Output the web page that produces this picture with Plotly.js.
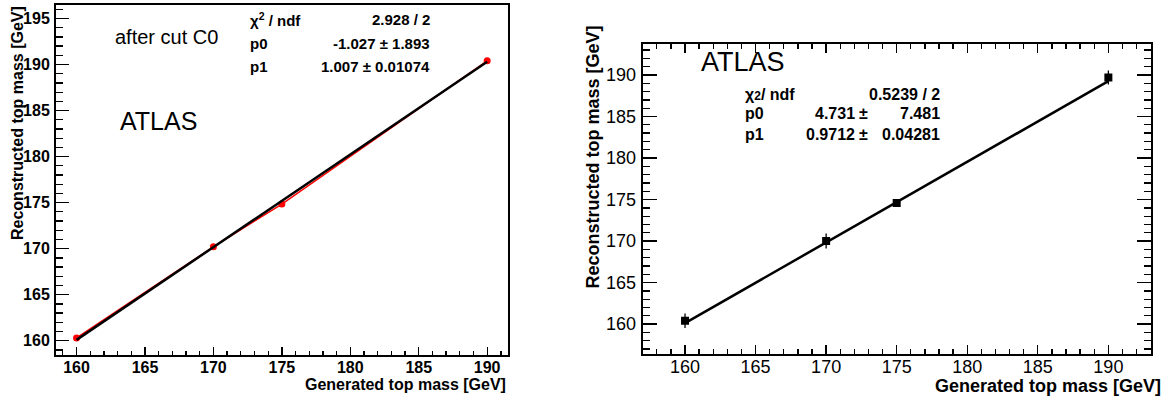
<!DOCTYPE html>
<html>
<head>
<meta charset="utf-8">
<script src="https://cdn.plot.ly/plotly-3.0.1.min.js"></script>
<style>html,body{margin:0;padding:0;background:#fff;}#chart{width:1170px;height:396px;}</style>
</head>
<body>
<div id="chart"></div>
<script>
// ---- Data ----
// Left panel: after cut C0
const genMassLeft = [160, 170, 175, 190];
const recoMassLeft = [160.3, 170.2, 174.85, 190.4];
const fitLeftP0 = -1.027;
const fitLeftP1 = 1.007;
const fitRange = [160, 190];
const statLabelsLeft = ['χ<sup>2</sup> / ndf', 'p0', 'p1'];
const statValuesLeft = ['2.928 / 2', '-1.027 ± 1.893', '1.007 ± 0.01074'];

// Right panel
const genMassRight = [160, 170, 175, 190];
const recoMassRight = [160.4, 170.0, 174.6, 189.7];
const recoErrRight = [0.87, 0.9, 0.3, 0.85];
const fitRightP0 = 4.731;
const fitRightP1 = 0.9712;
const statLabelsRight = ['χ<span style="font-size:12px">2</span>/ ndf', 'p0', 'p1'];
const statValA_Right = ['', '4.731', '0.9712'];
const statValB_Right = ['0.5239 / 2', '7.481', '0.04281'];

const xTitle = 'Generated top mass [GeV]';
const yTitle = 'Reconstructed top mass [GeV]';

// ---- helpers ----
const W = 1170, H = 396;
const px = x => x / W;
const py = y => 1 - y / H;
const FONT = 'Liberation Sans, Arial, Helvetica, sans-serif';

const fitLeftY = fitRange.map(x => fitLeftP0 + fitLeftP1 * x);
const fitRightY = fitRange.map(x => fitRightP0 + fitRightP1 * x);

const traces = [
  {x: genMassLeft, y: recoMassLeft, xaxis: 'x', yaxis: 'y', mode: 'lines+markers',
   line: {color: '#ff0000', width: 1.5}, marker: {color: '#ff0000', size: 7, symbol: 'circle'},
   hoverinfo: 'skip', showlegend: false},
  {x: fitRange, y: fitLeftY, xaxis: 'x', yaxis: 'y', mode: 'lines',
   line: {color: '#000', width: 2.5}, hoverinfo: 'skip', showlegend: false},
  {x: fitRange, y: fitRightY, xaxis: 'x2', yaxis: 'y2', mode: 'lines',
   line: {color: '#000', width: 2.5}, hoverinfo: 'skip', showlegend: false},
  {x: genMassRight, y: recoMassRight, xaxis: 'x2', yaxis: 'y2', mode: 'markers',
   marker: {color: '#000', size: 8, symbol: 'square'},
   error_y: {type: 'data', array: recoErrRight, visible: true, color: '#000', thickness: 1.3, width: 0},
   hoverinfo: 'skip', showlegend: false}
];

function axis(opts) {
  return Object.assign({
    showgrid: false, zeroline: false, showline: true, linecolor: '#000', linewidth: 2,
    ticks: 'inside', tickcolor: '#000', tickwidth: 1.3, dtick: 5,
    fixedrange: true
  }, opts);
}
function minor(len) {
  return {dtick: 1, ticks: 'inside', ticklen: len, tickcolor: '#000', tickwidth: 1.3, showgrid: false};
}

const annotations = [];
function ann(text, x, y, xanchor, size, bold, extra) {
  annotations.push(Object.assign({
    text: text, x: px(x), y: py(y), xref: 'paper', yref: 'paper',
    xanchor: xanchor, yanchor: 'middle', showarrow: false,
    font: {family: FONT, size: size, color: '#000', weight: bold ? 'bold' : 'normal'}
  }, extra || {}));
}

// Left panel texts
ann('after cut C0', 113, 37, 'left', 20, false);
ann('ATLAS', 118, 121, 'left', 25, false);
const leftRows = [20, 43.5, 66.5];
statLabelsLeft.forEach((t, i) => ann(t, 248, leftRows[i], 'left', 15, true));
statValuesLeft.forEach((t, i) => ann(t, 432, leftRows[i], 'right', 15, true));
ann(xTitle, 508, 384, 'right', 16, true);
ann(yTitle, 18, 4, 'center', 16, true, {textangle: -90, yanchor: 'top'});

// Right panel texts
ann('ATLAS', 699, 62, 'left', 27, false);
const rightRows = [94.5, 114, 134.5];
statLabelsRight.forEach((t, i) => ann(t, 743, rightRows[i], 'left', 16, true));
statValA_Right.forEach((t, i) => { if (t) ann(t, 857, rightRows[i], 'right', 16, true); });
statValA_Right.forEach((t, i) => { if (t) ann('±', 863, rightRows[i], 'center', 16, true); });
statValB_Right.forEach((t, i) => ann(t, 942, rightRows[i], 'right', 16, true));
ann(xTitle, 1163, 386, 'right', 18, true);
ann(yTitle, 593, 24, 'center', 18, true, {textangle: -90, yanchor: 'top'});

const layout = {
  width: W, height: H,
  margin: {l: 0, r: 0, t: 0, b: 0},
  paper_bgcolor: '#fff', plot_bgcolor: '#fff',
  font: {family: FONT, color: '#000'},
  showlegend: false,
  xaxis: axis({domain: [px(56), px(507.7)], range: [158.5, 191.5], anchor: 'y', mirror: true,
    ticklen: 8, tickfont: {family: FONT, size: 16, weight: 'bold'}, ticklabelstandoff: -3,
    minor: minor(4)}),
  yaxis: axis({domain: [py(355), py(4.7)], range: [158.45, 196.5], anchor: 'x', mirror: true,
    ticklen: 13, tickfont: {family: FONT, size: 16, weight: 'bold'}, ticklabelstandoff: 1,
    minor: minor(7)}),
  xaxis2: axis({domain: [px(642.7), px(1150.7)], range: [157, 193], anchor: 'y2', mirror: 'allticks',
    ticklen: 9, tickfont: {family: FONT, size: 18}, ticklabelstandoff: -5,
    minor: minor(5)}),
  yaxis2: axis({domain: [py(354), py(44.3)], range: [156.4, 193.7], anchor: 'x2', mirror: 'allticks',
    ticklen: 14, tickfont: {family: FONT, size: 18}, ticklabelstandoff: 1,
    minor: minor(7)}),
  annotations: annotations
};

Plotly.newPlot('chart', traces, layout, {staticPlot: true, displayModeBar: false});
</script>
</body>
</html>
